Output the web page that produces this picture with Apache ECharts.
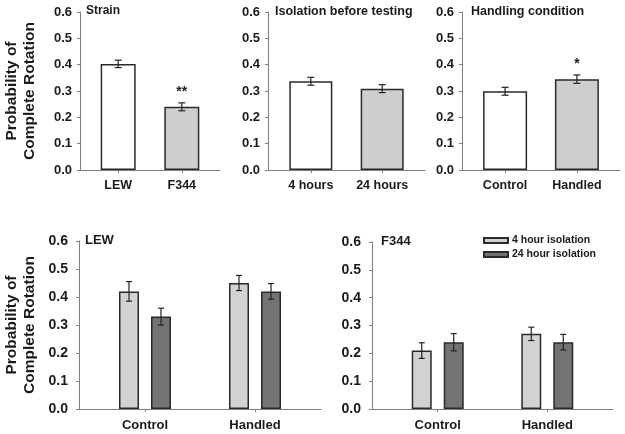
<!DOCTYPE html>
<html>
<head>
<meta charset="utf-8">
<script src="https://cdn.jsdelivr.net/npm/echarts@6/dist/echarts.min.js"></script>
<style>
html,body{margin:0;padding:0;background:#fff;}
#chart{width:625px;height:434px;}
</style>
</head>
<body>
<div id="chart"></div>
<script>
// ---- Data ----
const strainCats = ['LEW', 'F344'];
const strainVals = [0.403, 0.240];
const strainErr = [0.014, 0.015];
const strainSig = ['', '**'];

const isoCats = ['4 hours', '24 hours'];
const isoVals = [0.337, 0.309];
const isoErr = [0.015, 0.015];
const isoSig = ['', ''];

const handCats = ['Control', 'Handled'];
const handVals = [0.299, 0.345];
const handErr = [0.015, 0.016];
const handSig = ['', '*'];

const groupCats = ['Control', 'Handled'];
const seriesNames = ['4 hour isolation', '24 hour isolation'];
const lew4h = [0.42, 0.45];
const lew4hErr = [0.035, 0.027];
const lew24h = [0.33, 0.42];
const lew24hErr = [0.030, 0.028];
const f344_4h = [0.21, 0.27];
const f344_4hErr = [0.028, 0.024];
const f344_24h = [0.24, 0.24];
const f344_24hErr = [0.031, 0.028];

const panelTitles = ['Strain', 'Isolation before testing', 'Handling condition', 'LEW', 'F344'];
const yName = 'Probability of\nComplete Rotation';

// ---- Styles ----
const FONT = 'Liberation Sans, Arial, sans-serif';
const TXT = '#1a1a1a';
const AX = '#808080';
const BORDER = '#2a2a2a';
const WHITE = '#ffffff';
const GRAY_TOP = '#cecece';
const LIGHT = '#d2d2d2';
const DARK = '#737373';

const grids = [
  {left: 80, top: 12, width: 140, height: 158},
  {left: 268, top: 12, width: 157, height: 158},
  {left: 462, top: 12, width: 158, height: 158},
  {left: 79, top: 241, width: 242, height: 168},
  {left: 372, top: 242, width: 241, height: 167}
];
const catSets = [strainCats, isoCats, handCats, groupCats, groupCats];

function xAxisFor(i, top) {
  const cats = catSets[i];
  return {
    gridIndex: i, type: 'value', min: -0.6, max: 1.6,
    splitLine: {show: false},
    axisLine: {show: true, onZero: false, lineStyle: {color: AX, width: 1}},
    axisTick: {show: true, customValues: [0, 1], length: 3, lineStyle: {color: AX}},
    axisLabel: {
      customValues: [0, 1], margin: top ? 9 : 10,
      formatter: v => cats[Math.round(v)] || '',
      fontFamily: FONT, fontWeight: 'bold', fontSize: top ? 12.5 : 13, color: TXT
    }
  };
}
function yAxisFor(i, top, named) {
  return {
    gridIndex: i, type: 'value', min: 0, max: 0.6, interval: 0.1,
    splitLine: {show: false},
    axisLine: {show: true, onZero: false, lineStyle: {color: AX, width: 1}},
    axisTick: {show: true, length: 3, lineStyle: {color: AX}},
    axisLabel: {
      formatter: v => v.toFixed(1), margin: top ? 8 : 11,
      fontFamily: FONT, fontWeight: 'bold', fontSize: top ? 13 : 14, color: TXT
    },
    name: named ? yName : '',
    nameLocation: 'middle', nameRotate: 90, nameGap: top ? 41 : 40,
    nameTextStyle: {fontFamily: FONT, fontWeight: 'bold', fontSize: 15.5, lineHeight: 18, color: TXT, align: 'center'}
  };
}

function pts(vals, errs) {
  return vals.map((v, k) => [k, v, errs ? errs[k] : 0]);
}

function errSeries(gi, vals, errs, offsetPx, sig, capHalf) {
  return {
    type: 'custom', xAxisIndex: gi, yAxisIndex: gi, z: 5,
    silent: true,
    data: pts(vals, errs),
    renderItem: function (params, api) {
      const x = api.value(0), v = api.value(1), e = api.value(2);
      const hi = api.coord([x, v + e]);
      const lo = api.coord([x, v - e]);
      const cx = hi[0] + offsetPx;
      const st = {stroke: '#222', lineWidth: 1.2};
      const children = [
        {type: 'line', shape: {x1: cx, y1: hi[1], x2: cx, y2: lo[1]}, style: st},
        {type: 'line', shape: {x1: cx - capHalf, y1: hi[1], x2: cx + capHalf, y2: hi[1]}, style: st},
        {type: 'line', shape: {x1: cx - capHalf, y1: lo[1], x2: cx + capHalf, y2: lo[1]}, style: st}
      ];
      const s = sig ? sig[params.dataIndex] : '';
      if (s) {
        children.push({type: 'text', style: {
          text: s, x: cx, y: hi[1] - 4, align: 'center', verticalAlign: 'bottom',
          font: 'bold 14px ' + FONT, fill: '#222'
        }});
      }
      return {type: 'group', children: children};
    }
  };
}

function topBar(gi, vals, colors, bw) {
  return {
    type: 'bar', xAxisIndex: gi, yAxisIndex: gi, barWidth: bw, z: 2,
    data: vals.map((v, k) => ({value: [k, v], itemStyle: {color: colors[k]}})),
    itemStyle: {borderColor: BORDER, borderWidth: 1.5}
  };
}
function groupBar(gi, name, vals, color) {
  return {
    type: 'bar', name: name, xAxisIndex: gi, yAxisIndex: gi, barWidth: 20, barGap: '60%', z: 2,
    data: vals.map((v, k) => [k, v]),
    itemStyle: {color: color, borderColor: BORDER, borderWidth: 1.5}
  };
}

const titles = [
  {text: panelTitles[0], left: 86, top: 5, fs: 12},
  {text: panelTitles[1], left: 275, top: 5, fs: 12.5},
  {text: panelTitles[2], left: 471, top: 5, fs: 12.5},
  {text: panelTitles[3], left: 85, top: 234, fs: 13},
  {text: panelTitles[4], left: 381, top: 235, fs: 13}
].map(t => ({text: t.text, left: t.left, top: t.top, padding: 0,
  textStyle: {fontFamily: FONT, fontWeight: 'bold', fontSize: t.fs, color: TXT}}));

const option = {
  backgroundColor: '#fff',
  animation: false,
  title: titles,
  legend: {
    data: seriesNames, orient: 'vertical', left: 483, top: 235,
    icon: 'rect', itemWidth: 24, itemHeight: 5, itemGap: 3, padding: 0,
    textStyle: {fontFamily: FONT, fontWeight: 'bold', fontSize: 10.5, color: TXT, padding: [0, 0, 0, -1]},
    selectedMode: false
  },
  grid: grids,
  xAxis: [0, 1, 2, 3, 4].map(i => xAxisFor(i, i < 3)),
  yAxis: [0, 1, 2, 3, 4].map(i => yAxisFor(i, i < 3, i === 0 || i === 3)),
  series: [
    topBar(0, strainVals, [WHITE, GRAY_TOP], 35),
    errSeries(0, strainVals, strainErr, 0, strainSig, 3.5),
    topBar(1, isoVals, [WHITE, GRAY_TOP], 43),
    errSeries(1, isoVals, isoErr, 0, isoSig, 3.5),
    topBar(2, handVals, [WHITE, GRAY_TOP], 44),
    errSeries(2, handVals, handErr, 0, handSig, 3.5),
    groupBar(3, seriesNames[0], lew4h, LIGHT),
    groupBar(3, seriesNames[1], lew24h, DARK),
    errSeries(3, lew4h, lew4hErr, -16, null, 3),
    errSeries(3, lew24h, lew24hErr, 16, null, 3),
    groupBar(4, seriesNames[0], f344_4h, LIGHT),
    groupBar(4, seriesNames[1], f344_24h, DARK),
    errSeries(4, f344_4h, f344_4hErr, -16, null, 3),
    errSeries(4, f344_24h, f344_24hErr, 16, null, 3)
  ]
};

const chart = echarts.init(document.getElementById('chart'), null, {renderer: 'canvas'});
chart.setOption(option);
</script>
</body>
</html>
